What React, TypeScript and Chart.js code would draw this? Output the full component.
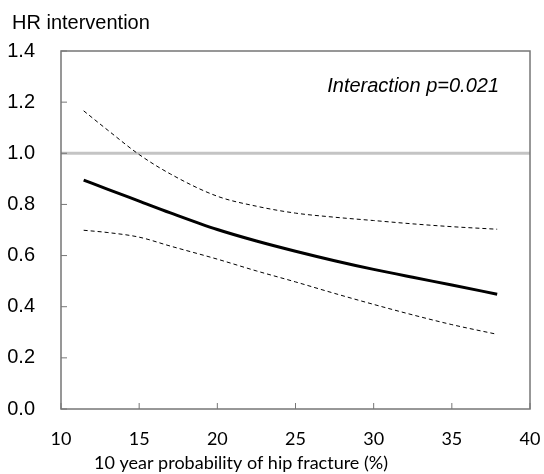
import React, { useEffect, useRef } from "react";
import { Chart, registerables } from "chart.js";

Chart.register(...registerables);

const xValues = [11.45, 13, 15, 17, 20, 22.5, 25, 27.5, 30, 32.5, 35, 37.9];
const hrMain = [0.895, 0.859, 0.813, 0.767, 0.702, 0.657, 0.617, 0.58, 0.546, 0.515, 0.485, 0.449];
const hrUpper = [1.166, 1.09, 0.995, 0.919, 0.832, 0.793, 0.766, 0.75, 0.737, 0.724, 0.713, 0.703];
const hrLower = [0.699, 0.69, 0.672, 0.637, 0.586, 0.54, 0.497, 0.452, 0.409, 0.368, 0.33, 0.292];
const referenceY = 1.0;
const xTicks = [10, 15, 20, 25, 30, 35, 40];
const yTicks = [0, 0.2, 0.4, 0.6, 0.8, 1.0, 1.2, 1.4];
const yTitle = "HR intervention";
const xTitle = "10 year probability of hip fracture (%)";
const annotation = "Interaction p=0.021";

const toPts = (ys: number[]) => xValues.map((x, i) => ({ x, y: ys[i] }));

export default function App() {
  const ref = useRef<HTMLCanvasElement | null>(null);
  useEffect(() => {
    if (!ref.current) return;
    const decor = {
      id: "decor",
      beforeDatasetsDraw(chart: any) {
        const { ctx, chartArea: a, scales } = chart;
        const yy = scales.y.getPixelForValue(referenceY);
        ctx.save();
        ctx.strokeStyle = "#c4c4c4";
        ctx.lineWidth = 3;
        ctx.beginPath();
        ctx.moveTo(a.left, yy);
        ctx.lineTo(a.right, yy);
        ctx.stroke();
        ctx.restore();
      },
      afterDraw(chart: any) {
        const { ctx, chartArea: a, scales } = chart;
        ctx.save();
        ctx.strokeStyle = "#767676";
        ctx.lineWidth = 1.5;
        ctx.strokeRect(a.left, a.top, a.right - a.left, a.bottom - a.top);
        ctx.beginPath();
        yTicks.forEach((v) => {
          const p = scales.y.getPixelForValue(v);
          ctx.moveTo(a.left, p);
          ctx.lineTo(a.left + 6, p);
        });
        xTicks.forEach((v) => {
          const p = scales.x.getPixelForValue(v);
          ctx.moveTo(p, a.bottom);
          ctx.lineTo(p, a.bottom - 6);
        });
        ctx.lineWidth = 1;
        ctx.stroke();
        ctx.fillStyle = "#000";
        ctx.font = "20px 'Liberation Sans', Arial, sans-serif";
        ctx.textAlign = "left";
        ctx.textBaseline = "middle";
        ctx.fillText(yTitle, 12, 23);
        ctx.font = "italic 20px 'Liberation Sans', Arial, sans-serif";
        ctx.textAlign = "right";
        ctx.fillText(annotation, a.right - 31, 86);
        ctx.font = "18px Lato, sans-serif";
        ctx.textAlign = "center";
        ctx.fillText(xTitle, 241, 463);
        ctx.restore();
      },
    };
    const chart = new Chart(ref.current, {
      type: "line",
      data: {
        datasets: [
          {
            data: toPts(hrUpper),
            borderColor: "#000",
            borderWidth: 1,
            borderDash: [4, 3],
            pointRadius: 0,
            cubicInterpolationMode: "monotone",
          },
          {
            data: toPts(hrLower),
            borderColor: "#000",
            borderWidth: 1,
            borderDash: [4, 3],
            pointRadius: 0,
            cubicInterpolationMode: "monotone",
          },
          {
            data: toPts(hrMain),
            borderColor: "#000",
            borderWidth: 3,
            pointRadius: 0,
            cubicInterpolationMode: "monotone",
          },
        ],
      },
      plugins: [decor],
      options: {
        animation: false,
        responsive: false,
        maintainAspectRatio: false,
        layout: { padding: { top: 51, right: 14, left: 0, bottom: 0 } },
        plugins: { legend: { display: false }, tooltip: { enabled: false } },
        scales: {
          x: {
            type: "linear",
            min: 10,
            max: 40,
            border: { display: false },
            grid: { display: false },
            afterBuildTicks: (s: any) => {
              s.ticks = xTicks.map((v) => ({ value: v }));
            },
            afterFit: (s: any) => {
              s.height = 65;
              s.paddingLeft = 0;
              s.paddingRight = 0;
            },
            ticks: {
              color: "#000",
              padding: 11,
              maxRotation: 0,
              font: { family: "Lato, sans-serif", size: 18 },
              callback: (v: any) => String(v),
            },
          },
          y: {
            min: 0,
            max: 1.4,
            border: { display: false },
            grid: { display: false },
            afterBuildTicks: (s: any) => {
              s.ticks = yTicks.map((v) => ({ value: v }));
            },
            afterFit: (s: any) => {
              s.width = 61;
              s.paddingTop = 0;
              s.paddingBottom = 0;
            },
            ticks: {
              color: "#000",
              padding: 18,
              font: { family: "'Liberation Sans', Arial, sans-serif", size: 20 },
              callback: (v: any) => Number(v).toFixed(1),
            },
          },
        },
      },
    } as any);
    return () => chart.destroy();
  }, []);
  return (
    <div style={{ position: "fixed", left: 0, top: 0, width: 544, height: 474, background: "#fff" }}>
      <canvas ref={ref} width={544} height={474} style={{ width: 544, height: 474 }} />
    </div>
  );
}
